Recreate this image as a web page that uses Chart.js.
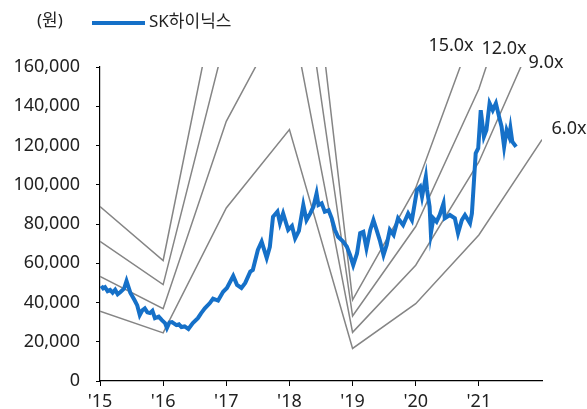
<!DOCTYPE html>
<html lang="ko">
<head>
    <meta charset="UTF-8">
    <title>SK하이닉스 PER Band</title>
    <style>
        * { margin: 0; padding: 0; }
        body { background: #fff; }
        #chart { display: block; }
    </style>
</head>
<body>
    <canvas id="chart" width="587" height="409"></canvas>

    <script src="https://cdn.jsdelivr.net/npm/chart.js"></script>
    <script>
        // PER band anchor points (one per year start) and band values in won
        const bandYears = [2015, 2016, 2017, 2018, 2019, 2020, 2021, 2022];
        const band15 = [88900, 61400, 220500, 320300, 41400, 98400, 186000, 307500];
        const band12 = [71100, 49100, 176400, 256200, 33100, 78700, 148800, 246000];
        const band9 = [53300, 36800, 132300, 192200, 24800, 59000, 111600, 184500];
        const band6 = [35600, 24500, 88200, 128100, 16600, 39400, 74400, 123000];
        const bandNames = ['15.0x', '12.0x', '9.0x', '6.0x'];

        // SK hynix close (decimal year -> won)
        const priceDates = [
            2015.02, 2015.05, 2015.08, 2015.12, 2015.16, 2015.20, 2015.24, 2015.28, 2015.32, 2015.38,
            2015.42, 2015.48, 2015.55, 2015.59, 2015.63, 2015.67, 2015.71, 2015.75, 2015.79, 2015.83,
            2015.87, 2015.93, 2015.98, 2016.03, 2016.06, 2016.10, 2016.14, 2016.21, 2016.25, 2016.29,
            2016.34, 2016.40, 2016.47, 2016.55, 2016.60, 2016.66, 2016.74, 2016.79, 2016.87, 2016.95,
            2017.01, 2017.11, 2017.17, 2017.24, 2017.30, 2017.38, 2017.42, 2017.50, 2017.56, 2017.64,
            2017.69, 2017.74, 2017.81, 2017.85, 2017.90, 2017.98, 2018.04, 2018.09, 2018.15, 2018.22,
            2018.27, 2018.33, 2018.38, 2018.43, 2018.46, 2018.51, 2018.56, 2018.62, 2018.67, 2018.72,
            2018.77, 2018.85, 2018.91, 2018.96, 2019.01, 2019.07, 2019.12, 2019.17, 2019.22, 2019.28,
            2019.33, 2019.38, 2019.43, 2019.49, 2019.54, 2019.59, 2019.65, 2019.72, 2019.80, 2019.88,
            2019.94, 2020.02, 2020.07, 2020.10, 2020.16, 2020.18, 2020.22, 2020.24, 2020.28, 2020.33,
            2020.38, 2020.44, 2020.46, 2020.54, 2020.62, 2020.67, 2020.73, 2020.78, 2020.86, 2020.89,
            2020.92, 2020.95, 2020.99, 2021.03, 2021.08, 2021.12, 2021.17, 2021.22, 2021.27, 2021.32,
            2021.36, 2021.40, 2021.44, 2021.48, 2021.50, 2021.53, 2021.59
        ];
        const priceValues = [
            48500, 47200, 47800, 45800, 46400, 45000, 46500, 44200, 45200, 47000,
            51000, 45000, 41000, 38500, 33600, 36000, 37000, 35000, 34600, 35800,
            32000, 32800, 31000, 29500, 27000, 29800, 30000, 28500, 28900, 27500,
            27800, 26500, 29500, 32000, 34500, 37000, 39700, 42000, 41000, 45500,
            47400, 53500, 49000, 47400, 50000, 55700, 56600, 66800, 71000, 62700,
            68400, 83700, 86300, 80400, 85400, 77000, 79000, 72700, 76500, 89700,
            82000, 85400, 88800, 95600, 89700, 90500, 86300, 87000, 82900, 77000,
            73500, 71000, 68400, 64200, 59000, 65000, 75300, 76000, 67600, 77000,
            82000, 77000, 71800, 64200, 69300, 77000, 74400, 82900, 79500, 85400,
            82000, 97300, 99000, 93900, 104000, 97300, 88800, 75300, 82900, 81200,
            84600, 90500, 82900, 84600, 82900, 75300, 82000, 84600, 80400, 85400,
            100700, 116000, 118600, 138000, 124500, 127900, 141500, 138000, 141500, 134700,
            129600, 119400, 127900, 124500, 128800, 121900, 119400
        ];

        const tickYears = [2015, 2016, 2017, 2018, 2019, 2020, 2021];
        const tickLabels = ["'15", "'16", "'17", "'18", "'19", "'20", "'21"];

        const BLUE = '#1570C8';
        const GRAY = '#858585';
        const FONT = "'Noto Sans', 'Noto Sans CJK KR', sans-serif";

        const toXY = (xs, ys) => xs.map((x, i) => ({ x: x, y: ys[i] }));
        const bandLine = (vals) => ({
            data: toXY(bandYears, vals),
            borderColor: GRAY,
            borderWidth: 1.5,
            pointRadius: 0,
            tension: 0
        });

        // unit, legend and band labels
        const labelsPlugin = {
            id: 'labels',
            afterDraw(chart) {
                const c = chart.ctx;
                c.save();
                c.fillStyle = '#222';
                c.font = '17px ' + FONT;
                c.textBaseline = 'middle';
                c.textAlign = 'left';
                c.fillText('(원)', 37, 21);
                c.strokeStyle = BLUE;
                c.lineWidth = 4;
                c.beginPath();
                c.moveTo(92, 23);
                c.lineTo(145, 23);
                c.stroke();
                c.fillText('SK하이닉스', 149, 22);

                c.font = '18px ' + FONT;
                c.textAlign = 'center';
                const pos = [[451, 46], [504, 49], [546, 63], [569, 129]];
                bandNames.forEach((n, i) => c.fillText(n, pos[i][0], pos[i][1]));
                c.restore();
            }
        };

        new Chart(document.getElementById('chart'), {
            type: 'line',
            data: {
                datasets: [
                    {
                        label: 'SK하이닉스',
                        data: toXY(priceDates, priceValues),
                        borderColor: BLUE,
                        borderWidth: 4,
                        pointRadius: 0,
                        tension: 0
                    },
                    bandLine(band15),
                    bandLine(band12),
                    bandLine(band9),
                    bandLine(band6)
                ]
            },
            options: {
                responsive: false,
                animation: false,
                devicePixelRatio: 1,
                layout: { padding: { top: 67, right: 45, left: 0, bottom: 0 } },
                plugins: { legend: { display: false }, tooltip: { enabled: false } },
                scales: {
                    x: {
                        type: 'linear',
                        min: 2015,
                        max: 2022,
                        afterBuildTicks: s => { s.ticks = tickYears.map(v => ({ value: v })); },
                        afterFit: s => { s.height = 28; },
                        grid: { drawOnChartArea: false, tickLength: 5, color: '#000' },
                        border: { color: '#000', width: 1.2 },
                        ticks: {
                            padding: 5,
                            color: '#222',
                            font: { family: FONT, size: 18 },
                            maxRotation: 0,
                            autoSkip: false,
                            callback: v => tickLabels[tickYears.indexOf(v)]
                        }
                    },
                    y: {
                        min: 0,
                        max: 160000,
                        afterFit: s => { s.width = 100; },
                        grid: { drawOnChartArea: false, tickLength: 4, color: '#000' },
                        border: { color: '#000', width: 1.2 },
                        ticks: {
                            stepSize: 20000,
                            padding: 16,
                            color: '#222',
                            font: { family: FONT, size: 18 },
                            callback: v => v.toLocaleString('en-US')
                        }
                    }
                }
            },
            plugins: [labelsPlugin]
        });
    </script>
</body>
</html>
